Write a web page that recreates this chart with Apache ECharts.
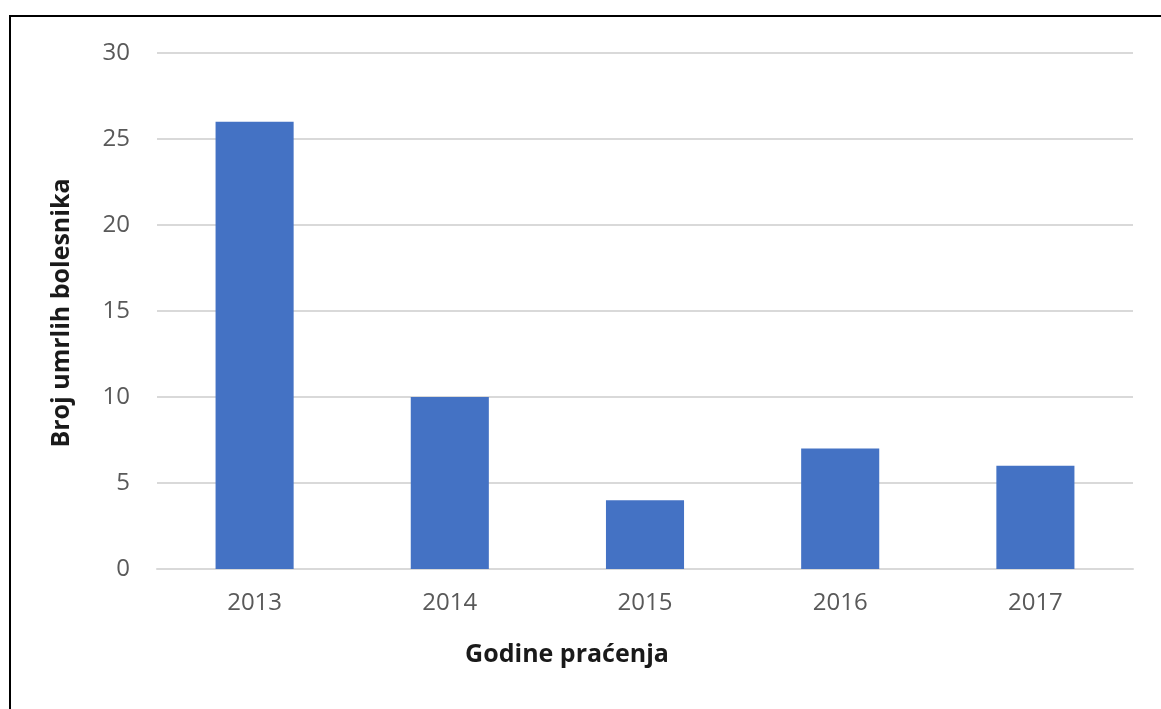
<!DOCTYPE html>
<html>
<head>
<meta charset="utf-8">
<script src="https://cdn.jsdelivr.net/npm/echarts@6/dist/echarts.min.js"></script>
<style>
html,body{margin:0;padding:0;background:#fff;overflow:hidden;}
#frame{position:absolute;left:9px;top:15px;width:1170px;height:720px;border:2px solid #000;box-sizing:border-box;}
#chart{position:absolute;left:0;top:0;width:1161px;height:709px;}
</style>
</head>
<body>
<div id="frame"></div>
<div id="chart"></div>
<script>
const categories = ['2013', '2014', '2015', '2016', '2017'];
const deaths = [26, 10, 4, 7, 6];
const yTicks = { min: 0, max: 30, interval: 5 };
const xTitle = 'Godine praćenja';
const yTitle = 'Broj umrlih bolesnika';

const chart = echarts.init(document.getElementById('chart'));
const fontFam = '"Open Sans", "Liberation Sans", sans-serif';
chart.setOption({
  backgroundColor: 'transparent',
  animation: false,
  grid: { left: 157, right: 28, top: 53, bottom: 140 },
  xAxis: {
    type: 'category',
    data: categories,
    axisLine: { show: true, lineStyle: { color: '#d9d9d9', width: 2 } },
    axisTick: { show: false },
    axisLabel: { color: '#595959', fontSize: 24, fontFamily: fontFam, margin: 22 }
  },
  yAxis: {
    type: 'value',
    min: yTicks.min, max: yTicks.max, interval: yTicks.interval,
    axisLine: { show: false },
    axisTick: { show: false },
    splitLine: { lineStyle: { color: '#d9d9d9', width: 2 } },
    axisLabel: { color: '#595959', fontSize: 24, fontFamily: fontFam, margin: 27 }
  },
  series: [{
    type: 'bar',
    data: deaths,
    barWidth: '40%',
    itemStyle: { color: '#4472C4' }
  }],
  graphic: [
    { type: 'text', x: 567, y: 655, style: { text: xTitle, font: 'bold 25px ' + fontFam, fill: '#1a1a1a', align: 'center', verticalAlign: 'middle' } },
    { type: 'text', x: 62, y: 313, rotation: Math.PI / 2, style: { text: yTitle, font: 'bold 25px ' + fontFam, fill: '#1a1a1a', align: 'center', verticalAlign: 'middle' } }
  ]
});
</script>
</body>
</html>
